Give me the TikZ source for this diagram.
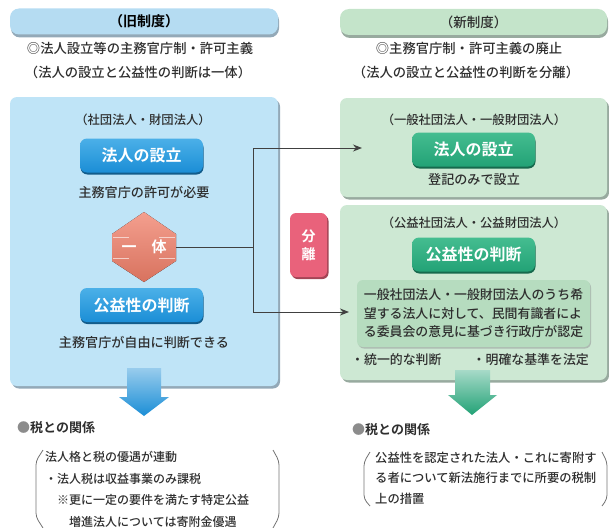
\documentclass[tikz,border=0pt]{standalone}
\usepackage{fontspec}
\setmainfont{Noto Sans CJK JP}[UprightFont=* Medium, BoldFont=* Bold]
\usepackage{tikz}
\usetikzlibrary{arrows.meta,positioning,shadows,calc}

\definecolor{txt}{HTML}{2E2E2E}
\definecolor{oldfill}{HTML}{BFE4F7}
\definecolor{oldshadow}{HTML}{93A9B8}
\definecolor{newfill}{HTML}{CDE8D3}
\definecolor{newshadow}{HTML}{98AA9F}
\definecolor{innerfill}{HTML}{B6DCBF}
\definecolor{headblue}{HTML}{B5DCF2}
\definecolor{headgreen}{HTML}{C4E4CA}
\definecolor{btnblue}{HTML}{1B8ED6}
\definecolor{btnbluetop}{HTML}{4BB0E8}
\definecolor{btngreen}{HTML}{22A276}
\definecolor{btngreentop}{HTML}{45BD90}
\definecolor{splitpink}{HTML}{E9627B}
\definecolor{salmon}{HTML}{F07F69}
\definecolor{linkgray}{HTML}{404040}

\begin{document}
\begin{tikzpicture}[x=1pt, y=-1pt,
    every node/.style={text=txt, inner sep=0pt},
    fs/.style={font=\fontsize{#1}{#1}\selectfont},
    panel/.style={rounded corners=7pt, drop shadow={shadow xshift=2pt, shadow yshift=-2.5pt, fill=#1, opacity=1}},
    oldpanel/.style={panel=oldshadow, fill=oldfill, minimum width=268pt, minimum height=289pt},
    newpanel/.style={panel=newshadow, fill=newfill, minimum width=267pt},
    headpill/.style={rounded corners=9pt, minimum height=26pt},
    btn/.style={rounded corners=7pt, minimum width=123pt, minimum height=34pt, text=white,
        font=\fontsize{16}{16}\selectfont\bfseries},
    bluebtn/.style={btn, top color=btnbluetop, bottom color=btnblue,
        drop shadow={shadow xshift=0.5pt, shadow yshift=-2pt, fill=btnblue!65!black, opacity=1}},
    greenbtn/.style={btn, top color=btngreentop, bottom color=btngreen,
        drop shadow={shadow xshift=0.5pt, shadow yshift=-2pt, fill=btngreen!65!black, opacity=1}},
    link/.style={draw=linkgray, line width=1pt},
    linkarrow/.style={link, -{Stealth[length=9pt, width=7pt]}},
    brk/.style={draw=black!55, line width=0.8pt, rounded corners=4pt}
]
\useasboundingbox (0,0) rectangle (609,527);

% Headers
\node[headpill, fill=headblue, minimum width=268pt,
      drop shadow={shadow xshift=1pt, shadow yshift=-3pt, fill=oldshadow, opacity=1},
      text=black, font=\fontsize{14}{14}\selectfont\bfseries] (oldhead) at (144,21.5) {（旧制度）};
\node[headpill, fill=headgreen, minimum width=267pt,
      drop shadow={shadow xshift=1pt, shadow yshift=-3pt, fill=newshadow, opacity=1},
      fs=13.5] (newhead) at (473.5,22) {（新制度）};

\node[fs=13.3] (oldsub1) at (140,48) {◎法人設立等の主務官庁制・許可主義};
\node[fs=13.3] (oldsub2) at (138,72) {（法人の設立と公益性の判断は一体）};
\node[fs=13.3] (newsub1) at (469,48) {◎主務官庁制・許可主義の廃止};
\node[fs=13.3] (newsub2) at (466,72) {（法人の設立と公益性の判断を分離）};

% Old system panel
\node[oldpanel] (oldbox) at (144,241.5) {};
\node[fs=12.3] (oldkind) at (143,120) {（社団法人・財団法人）};
\node[bluebtn] (oldset) at (141.5,155.5) {法人の設立};
\node[fs=13.1] (oldsetnote) at (144,192) {主務官庁の許可が必要};
\fill[top color=salmon!75!white, bottom color=salmon!90!black]
    (144,212) -- (176,234) -- (176,261) -- (144,282) -- (112,261) -- (112,234) -- cycle;
\foreach \y in {237,258} {
  \draw[white, opacity=.6, line width=1pt] (113,\y) -- (129,\y) (159,\y) -- (175,\y);
}
\node[minimum width=64pt, minimum height=27pt, text=white,
      font=\fontsize{15}{15}\selectfont\bfseries] (ittai) at (144,247) {一\hspace{15pt}体};
\node[bluebtn] (oldjudge) at (141.5,305) {公益性の判断};
\node[fs=13.1] (oldjudgenote) at (144,342) {主務官庁が自由に判断できる};

% New system panels
\node[newpanel, fill=newfill, minimum height=99pt] (newsetbox) at (473.5,147.5) {};
\node[fs=12.3] (newsetkind) at (474,120) {（一般社団法人・一般財団法人）};
\node[greenbtn] (newset) at (473.5,149.5) {法人の設立};
\node[fs=13.1] (newsetnote) at (474,180) {登記のみで設立};

\node[newpanel, fill=newfill, minimum height=175pt] (newjudgebox) at (473.5,292.5) {};
\node[fs=12.3] (newjudgekind) at (474,223) {（公益社団法人・公益財団法人）};
\node[greenbtn] (newjudge) at (473.5,254.5) {公益性の判断};
\node[fill=innerfill, rounded corners=6pt, minimum width=233pt, minimum height=67pt,
      drop shadow={shadow xshift=1pt, shadow yshift=-1.5pt, fill=newshadow!80, opacity=1},
      align=left, font=\fontsize{12.9}{18.5}\selectfont] (certify) at (473.5,313.5)
    {一般社団法人・一般財団法人のうち希\\望する法人に対して、民間有識者によ\\る委員会の意見に基づき行政庁が認定};
\node[fs=12.9, anchor=west] (unified) at (351,360) {・統一的な判断};
\node[fs=12.9, anchor=east] (statute) at (589,360) {・明確な基準を法定};

% Separation tag
\node[fill=splitpink, rounded corners=6pt, minimum width=37pt, minimum height=64pt,
      drop shadow={shadow xshift=1.5pt, shadow yshift=-2pt, fill=splitpink!70!black, opacity=1},
      text=white, align=center, font=\fontsize{14}{18}\selectfont\bfseries] (split) at (308.5,245) {分\\離};

% Connectors
\coordinate (fork) at (253,247);
\coordinate (setin) at (362,148);
\coordinate (judgein) at (349,312);
\draw[link] (ittai.east) -- (fork);
\draw[linkarrow] (fork) |- (setin);
\draw[linkarrow] (fork) |- (judgein);

% Block arrows
\shade[top color=btnblue!45!white, bottom color=btnblue]
    (127,368) -- (161,368) -- (161,397) -- (169,397) -- (144,416) -- (119,397) -- (127,397) -- cycle;
\shade[top color=btngreen!40!white, bottom color=btngreen]
    (455,370) -- (490,370) -- (490,395) -- (497,395) -- (472,415) -- (448,395) -- (455,395) -- cycle;

% Tax relation
\node[anchor=west, font=\fontsize{13}{13}\selectfont\bfseries] (oldtax) at (17,428) {\textcolor{black!45}{●}税との関係};
\node[anchor=west, align=left, font=\fontsize{12}{21.7}\selectfont] (oldtaxnote) at (45,489.5)
    {法人格と税の優遇が連動\\・法人税は収益事業のみ課税\\\hspace*{12pt}※更に一定の要件を満たす特定公益\\\hspace*{24pt}増進法人については寄附金優遇};
\draw[brk] (43,450) -- (36,461) -- (36,517) -- (43,528);
\draw[brk] (273,450) -- (279,461) -- (279,517) -- (273,528);

\node[anchor=west, font=\fontsize{13}{13}\selectfont\bfseries] (newtax) at (352,430) {\textcolor{black!45}{●}税との関係};
\node[anchor=west, align=left, font=\fontsize{12.3}{20.5}\selectfont] (newtaxnote) at (375,478)
    {公益性を認定された法人・これに寄附す\\る者について新法施行までに所要の税制\\上の措置};
\draw[brk] (370,452) -- (364,462) -- (364,499) -- (370,506);
\draw[brk] (602,452) -- (607,462) -- (607,499) -- (602,506);

\end{tikzpicture}
\end{document}
